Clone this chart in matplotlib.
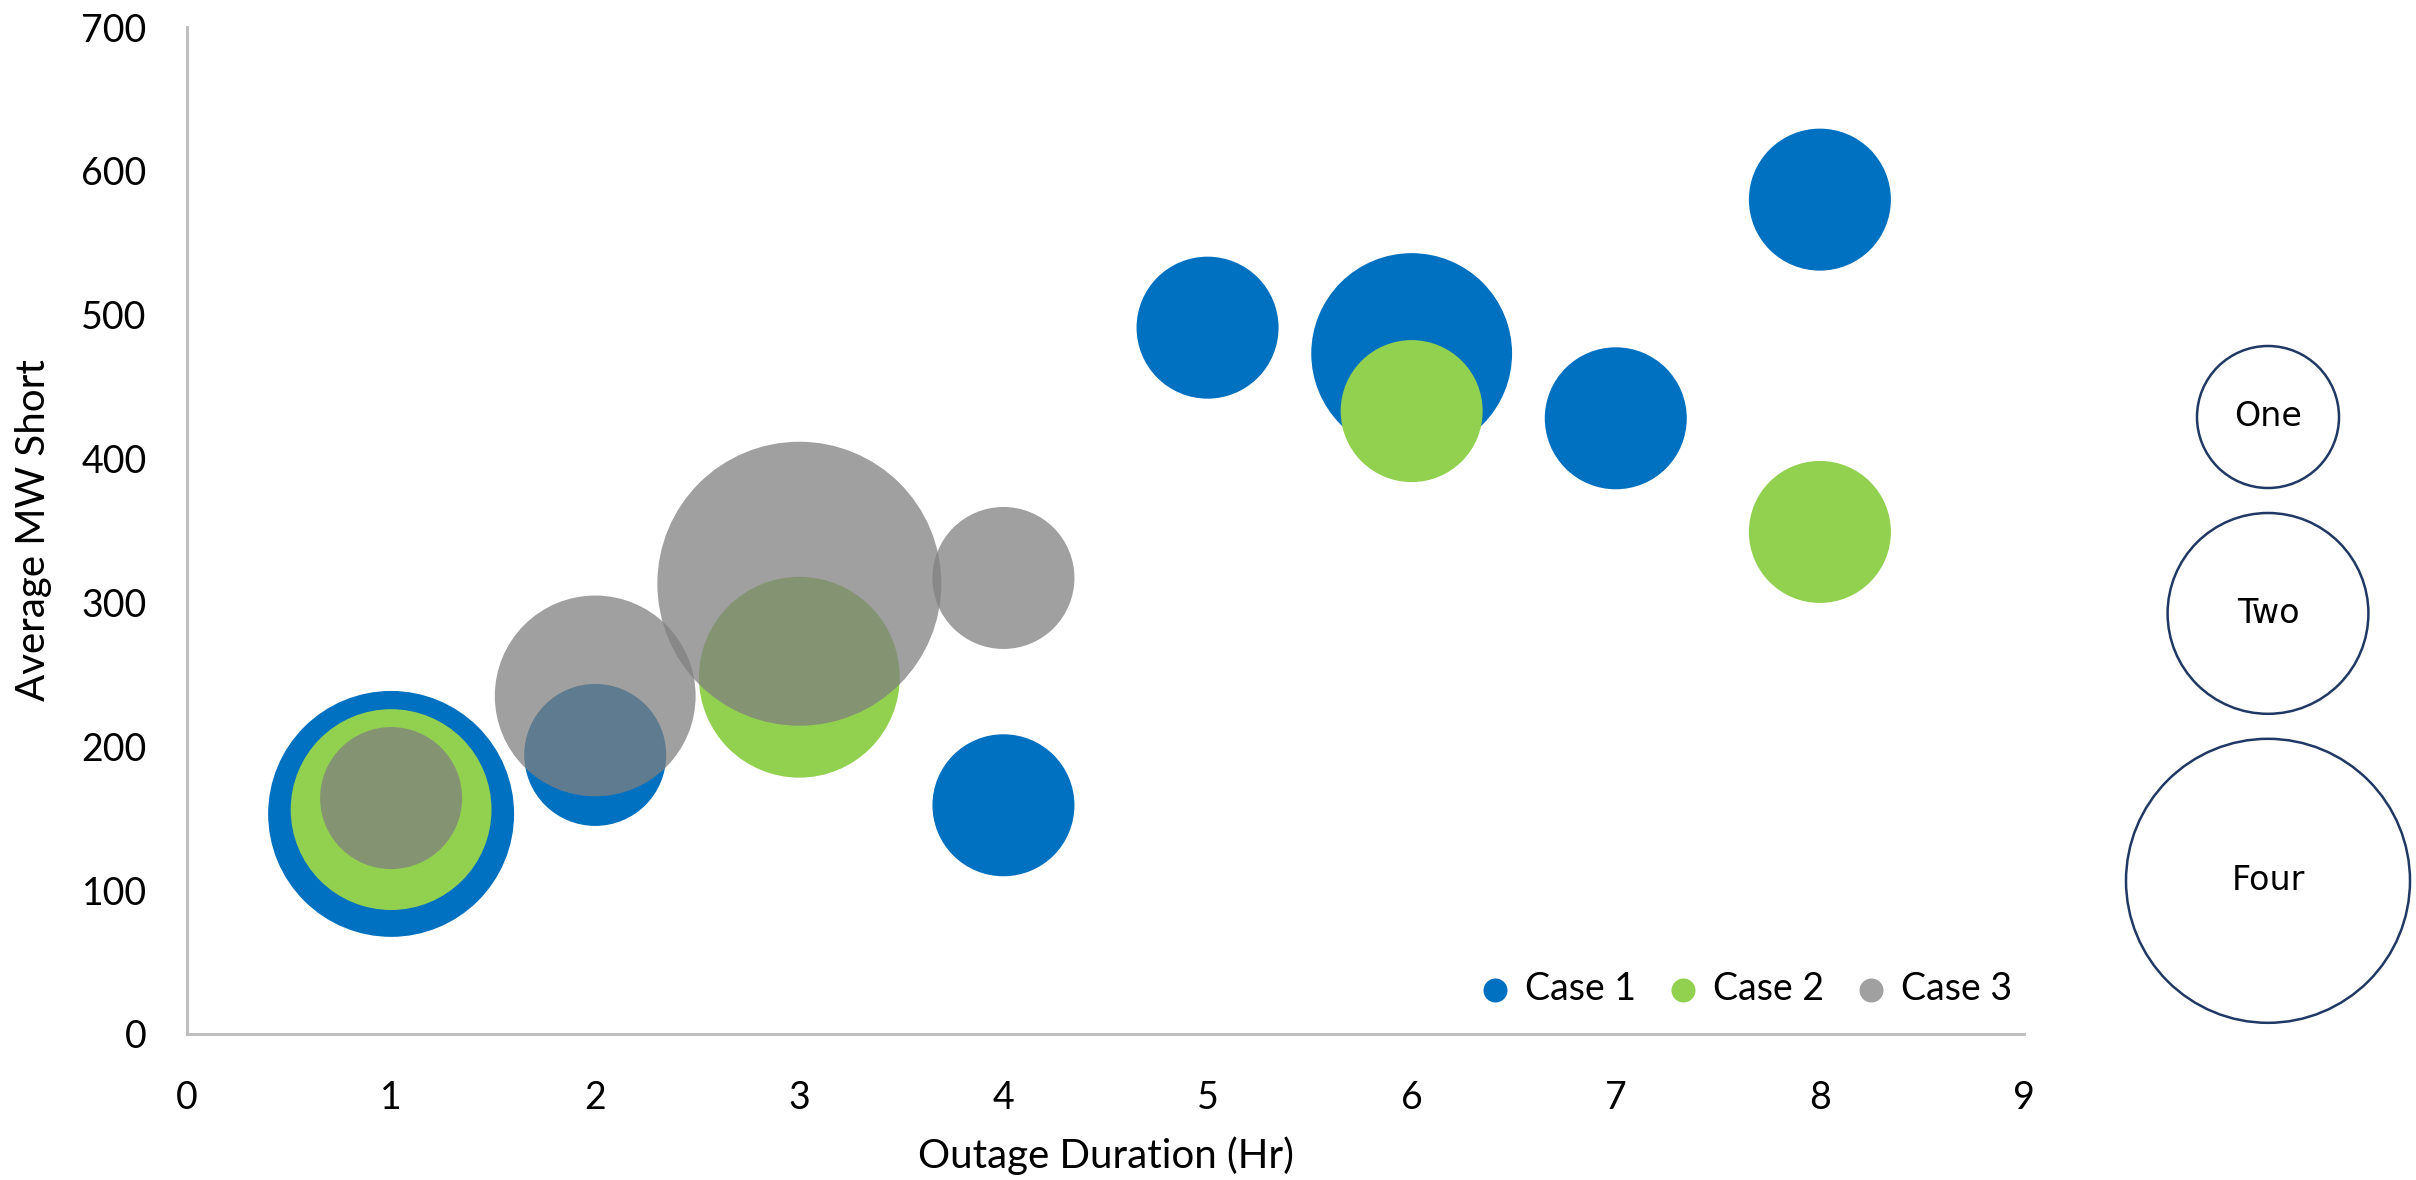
import numpy as np
import matplotlib
matplotlib.use("Agg")
import matplotlib.pyplot as plt

plt.rcParams["font.family"] = ["Lato", "DejaVu Sans"]

# ---------- Data ----------
case1_x = [1, 2, 4, 5, 6, 7, 8]
case1_y = [153, 194, 159, 491, 473, 428, 580]
case1_size = [3, 1, 1, 1, 2, 1, 1]

case2_x = [1, 3, 6, 8]
case2_y = [156, 248, 433, 349]
case2_size = [2, 2, 1, 1]

case3_x = [1, 2, 3, 4]
case3_y = [164, 235, 313, 317]
case3_size = [1, 2, 4, 1]

key_sizes = [1, 2, 4]
key_labels = ["One", "Two", "Four"]

x_ticks = list(range(0, 10))
y_ticks = list(range(0, 701, 100))

# ---------- Style ----------
DPI = 100
UNIT_RADIUS_PX = 71          # radius of a size-1 bubble, in pixels
px_to_pt = 72 / DPI


def bubble_area(sizes):
    # bubble area grows linearly with size
    diam_pt = 2 * UNIT_RADIUS_PX * px_to_pt
    return np.asarray(sizes, dtype=float) * diam_pt ** 2


fig = plt.figure(figsize=(24.16, 11.8), dpi=DPI)
ax = fig.add_axes([187 / 2416, 1 - 1034 / 1180, (2024 - 187) / 2416, (1034 - 27) / 1180])

ax.scatter(case1_x, case1_y, s=bubble_area(case1_size), color="#0070C0",
           linewidths=0, label="Case 1", zorder=2)
ax.scatter(case2_x, case2_y, s=bubble_area(case2_size), color="#92D050",
           linewidths=0, label="Case 2", zorder=3)
ax.scatter(case3_x, case3_y, s=bubble_area(case3_size), color="#808080",
           alpha=0.75, linewidths=0, label="Case 3", zorder=4)

ax.set_xlim(0, 9)
ax.set_ylim(0, 700)
ax.set_xticks(x_ticks)
ax.set_yticks(y_ticks)
ax.tick_params(length=0, labelsize=27, colors="black")
ax.tick_params(axis="y", pad=29)
ax.tick_params(axis="x", pad=33)

for side in ["top", "right"]:
    ax.spines[side].set_visible(False)
for side in ["left", "bottom"]:
    ax.spines[side].set_color("#BFBFBF")
    ax.spines[side].set_linewidth(2.2)

ax.set_xlabel("Outage Duration (Hr)", fontsize=29)
ax.set_ylabel("Average MW Short", fontsize=29)
ax.xaxis.label.set_va("center")
ax.yaxis.label.set_va("center")
ax.xaxis.set_label_coords(0.5, (1034 - 1156) / 1007)
ax.yaxis.set_label_coords((34 - 187) / 1837, 0.5)

leg = ax.legend(loc="center right", bbox_to_anchor=(2012 / 2416, 1 - 989 / 1180),
                bbox_transform=fig.transFigure, ncol=3, frameon=False,
                fontsize=27, handlelength=1.0, handletextpad=0.3,
                columnspacing=0.75, borderpad=0, borderaxespad=0)
for h in leg.legend_handles:
    h.set_sizes([(24 * px_to_pt) ** 2])

# ---------- Bubble size key ----------
key = fig.add_axes([0, 0, 1, 1])
key.set_xlim(0, 2416)
key.set_ylim(1180, 0)
key.axis("off")

radii = UNIT_RADIUS_PX * np.sqrt(key_sizes)
gap = 25
tops = 346 + np.concatenate([[0], np.cumsum(2 * radii[:-1] + gap)])
centers = tops + radii
key.scatter([2268] * len(key_sizes), centers, s=bubble_area(key_sizes),
            facecolor="white", edgecolor="#1F3864", linewidths=1.8)
for cy, lab in zip(centers, key_labels):
    key.text(2268, cy, lab, ha="center", va="center", fontsize=24,
             family="DejaVu Sans", color="black")

fig.savefig("out.png", dpi=DPI)
